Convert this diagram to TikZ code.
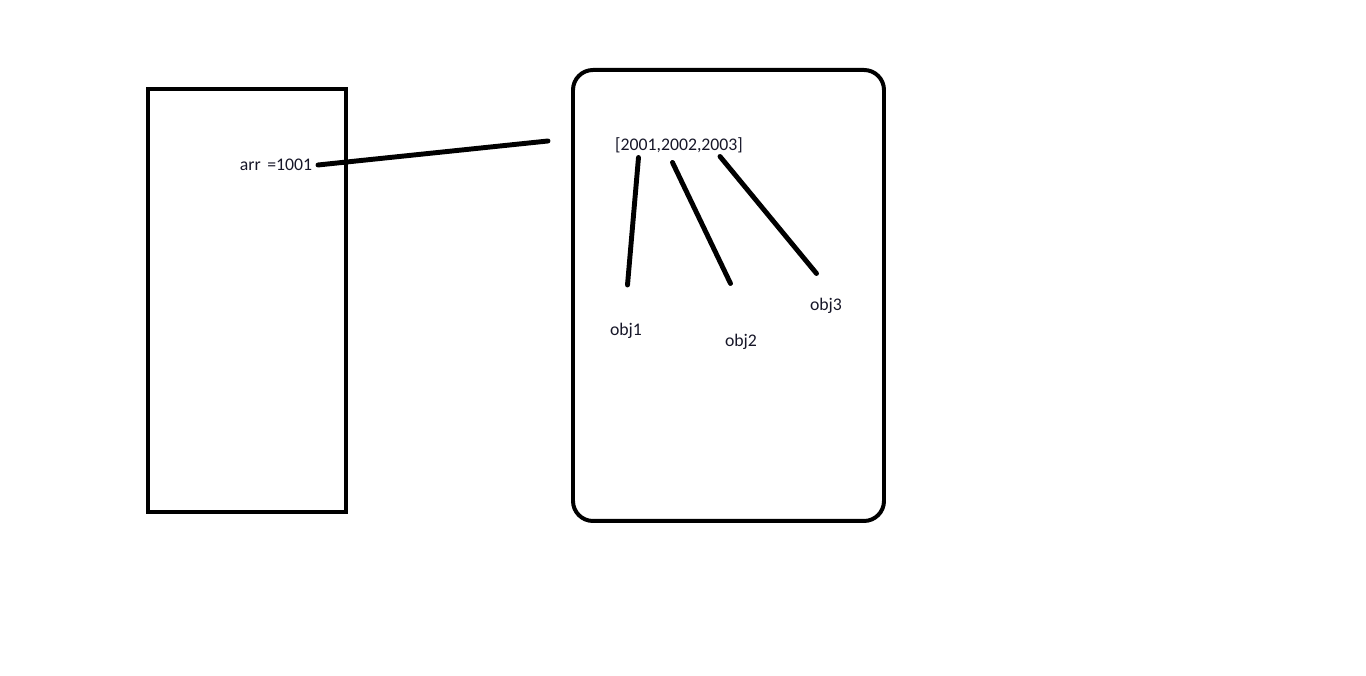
\documentclass[tikz,border=0pt]{standalone}
\usepackage{fontspec}
\setmainfont{Carlito}
\definecolor{inktext}{RGB}{22,22,40}
\begin{document}
\begin{tikzpicture}[line cap=round,line join=round,
    lbl/.style={text=inktext,font=\fontsize{10.1}{12}\selectfont,inner sep=0.07cm},
    wire/.style={line width=2.8pt}]
  \useasboundingbox (0,0) rectangle (27.32,13.52);
  % stack frame and heap block
  \draw[line width=2.27pt,line cap=butt,line join=miter] (2.96,11.74) rectangle (6.92,3.28);
  \draw[line width=2.27pt,rounded corners=0.4cm] (11.46,12.12) rectangle (17.68,3.10);
  \node[lbl,anchor=east,inner sep=0.05cm] (arr) at (6.30,10.22) {arr\hspace{0.05cm} =1001};
  \coordinate (ref) at (10.96,10.70);
  \draw[wire] (arr.east) ++(0.06,0) -- (ref);
  \node[lbl] (vals) at (13.58,10.62) {[2001,2002,2003]};
  \node[lbl] (obj1) at (12.52,6.90) {obj1};
  \node[lbl] (obj2) at (14.82,6.68) {obj2};
  \node[lbl] (obj3) at (16.52,7.40) {obj3};
  \coordinate (a1) at (12.77,10.37);
  \coordinate (b1) at (12.55,7.82);
  \coordinate (a2) at (13.45,10.27);
  \coordinate (b2) at (14.61,7.85);
  \coordinate (a3) at (14.40,10.39);
  \coordinate (b3) at (16.33,8.05);
  \draw[wire] (a1) -- (b1);
  \draw[wire] (a2) -- (b2);
  \draw[wire] (a3) -- (b3);
\end{tikzpicture}
\end{document}
